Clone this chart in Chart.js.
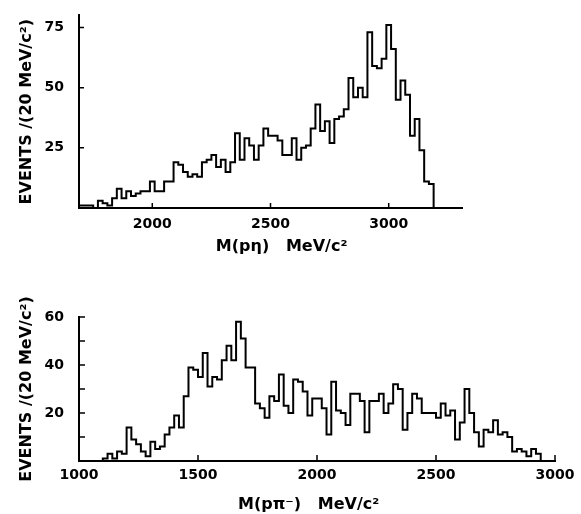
<!DOCTYPE html>
<html>
<head>
<meta charset="utf-8">
<script src="https://cdn.jsdelivr.net/npm/chart.js@4/dist/chart.umd.min.js"></script>
<style>
  html, body { margin: 0; padding: 0; background: #fff; }
  #wrap { position: relative; width: 581px; height: 514px; }
  canvas { position: absolute; left: 0; }
</style>
</head>
<body>
<div id="wrap">
  <canvas id="top" width="581" height="262" style="top:0"></canvas>
  <canvas id="bot" width="581" height="252" style="top:262px"></canvas>
</div>
<script>
// M(p eta): 20 MeV bins starting at 1690
const etaStart = 1690
const etaCounts = [
  1, 1, 1, 0, 3, 2, 1, 4, 8, 4,
  7, 5, 6, 7, 7, 11, 7, 7, 11, 11,
  19, 18, 15, 13, 14, 13, 19, 20, 22, 17,
  20, 15, 19, 31, 20, 29, 26, 20, 26, 33,
  30, 30, 28, 22, 22, 29, 20, 25, 26, 33,
  43, 32, 36, 27, 37, 38, 41, 54, 46, 50,
  46, 73, 59, 58, 62, 76, 66, 45, 53, 47,
  30, 37, 24, 11, 10
]
// M(p pi-): 20 MeV bins starting at 1100
const piStart = 1100
const piCounts = [
  1, 3, 1, 4, 3, 14, 9, 7, 4, 2,
  8, 5, 6, 11, 14, 19, 14, 27, 39, 38,
  35, 45, 31, 35, 34, 42, 48, 42, 58, 51,
  39, 39, 24, 22, 18, 27, 25, 36, 23, 20,
  34, 33, 29, 19, 26, 26, 22, 11, 33, 21,
  20, 15, 28, 28, 25, 12, 25, 25, 28, 20,
  24, 32, 30, 13, 20, 28, 26, 20, 20, 20,
  18, 24, 19, 21, 9, 16, 30, 20, 12, 6,
  13, 12, 17, 11, 12, 10, 4, 5, 4, 2,
  5, 3
]
const binWidth = 20

const topXTicks = [2000, 2500, 3000]
const topYTicks = [25, 50, 75]
const botXTicks = [1000, 1500, 2000, 2500, 3000]
const botYTicks = [10, 20, 30, 40, 50, 60]
const botYLabeled = [20, 40, 60]

const yTitle = "EVENTS /(20 MeV/c²)"
// spaces nudge the centred titles to where the paper has them
const topXTitle = "    M(pη)   MeV/c²"
const botXTitle = "M(pπ⁻)   MeV/c²   "

// histogram outline as a stepped line: rise at first edge, drop at last edge
function steps(start, counts) {
  const pts = [{ x: start, y: 0 }]
  counts.forEach((c, i) => pts.push({ x: start + i * binWidth, y: c }))
  pts.push({ x: start + counts.length * binWidth, y: 0 })
  return pts
}

// tick marks pointing into the plot, like the paper figure
const innerTicks = {
  id: "innerTicks",
  afterDraw(chart, args, o) {
    const { ctx, scales: { x, y } } = chart
    ctx.save()
    ctx.strokeStyle = "#000"; ctx.lineWidth = 1.5
    ctx.beginPath()
    for (const v of o.x) { const px = x.getPixelForValue(v); ctx.moveTo(px, y.bottom); ctx.lineTo(px, y.bottom - o.len) }
    for (const v of o.y) { const py = y.getPixelForValue(v); ctx.moveTo(x.left, py); ctx.lineTo(x.left + o.len, py) }
    ctx.stroke()
    ctx.restore()
  }
}

const tickFont = { family: "DejaVu Sans", size: 14, weight: "bold" }
const titleFont = { family: "DejaVu Sans", size: 16, weight: "bold" }

function makeChart(id, o) {
  return new Chart(document.getElementById(id).getContext("2d"), {
    type: "line",
    data: { datasets: [{
      data: steps(o.start, o.counts), stepped: true,
      borderColor: "#000", borderWidth: 2, pointRadius: 0, fill: false, clip: false
    }] },
    options: {
      responsive: false, animation: false, devicePixelRatio: 1,
      layout: { padding: o.pad },
      plugins: { legend: { display: false }, tooltip: { enabled: false },
        innerTicks: { x: o.xTicks, y: o.yTicks, len: o.tickLen } },
      scales: {
        x: {
          type: "linear", min: o.xMin, max: o.xMax,
          afterBuildTicks: s => { s.ticks = o.xTicks.map(v => ({ value: v })) },
          afterFit: s => { s.height = o.xHeight },
          grid: { display: false }, border: { display: true, color: "#000", width: 2 },
          ticks: { color: "#000", font: tickFont, padding: o.xPad, maxRotation: 0, autoSkip: false,
            callback: v => String(v) },
          title: { display: true, text: o.xTitle, color: "#000", font: titleFont,
            padding: { top: 0, bottom: o.xTitlePad } }
        },
        y: {
          type: "linear", min: 0, max: o.yMax,
          afterBuildTicks: s => { s.ticks = o.yTicks.map(v => ({ value: v })) },
          afterFit: s => { s.width = 79 },
          grid: { display: false }, border: { display: true, color: "#000", width: 2 },
          ticks: { color: "#000", font: tickFont, padding: 7, autoSkip: false,
            callback: v => o.yLabeled.includes(v) ? String(v) : "" },
          title: { display: true, text: yTitle, color: "#000", font: titleFont,
            padding: { top: 17, bottom: 0 } }
        }
      }
    },
    plugins: [innerTicks]
  })
}

makeChart("top", {
  start: etaStart, counts: etaCounts,
  xMin: 1690, xMax: 3310, yMax: 80,
  xTicks: topXTicks, yTicks: topYTicks, yLabeled: topYTicks, tickLen: 5,
  pad: { top: 15, right: 119, left: 0, bottom: 0 },
  xHeight: 54, xPad: 0, xTitle: topXTitle, xTitlePad: 6
})

makeChart("bot", {
  start: piStart, counts: piCounts,
  xMin: 1000, xMax: 3000, yMax: 60,
  xTicks: botXTicks, yTicks: botYTicks, yLabeled: botYLabeled, tickLen: 6,
  pad: { top: 55, right: 26, left: 0, bottom: 0 },
  xHeight: 53, xPad: -2, xTitle: botXTitle, xTitlePad: 0
})
</script>
</body>
</html>
